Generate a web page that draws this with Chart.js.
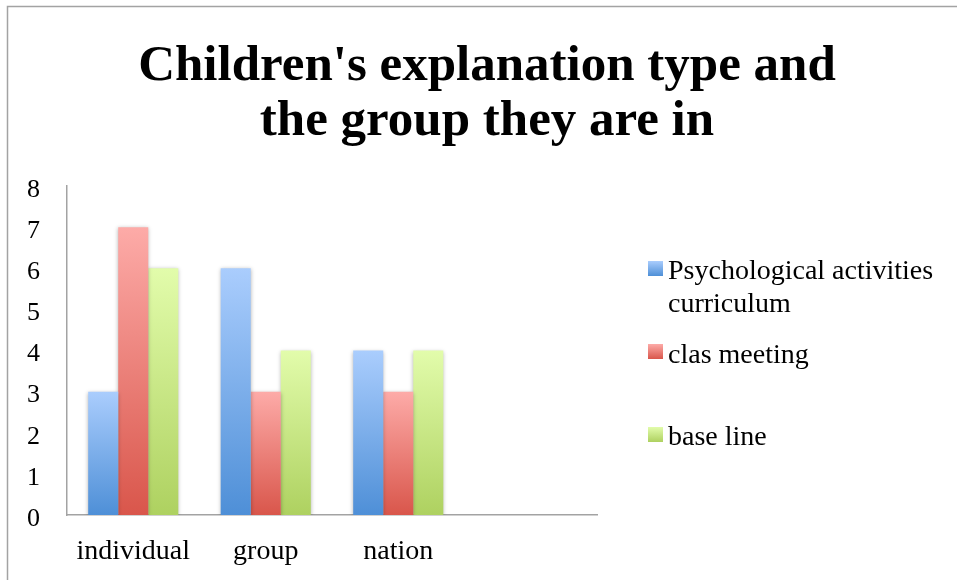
<!DOCTYPE html>
<html>
<head>
<meta charset="utf-8">
<script src="https://cdn.jsdelivr.net/npm/chart.js@4"></script>
<style>
  html, body { margin: 0; padding: 0; background: #fff; }
  canvas { display: block; }
</style>
</head>
<body>
<canvas id="chart" width="957" height="580"></canvas>
<script>
// Chart data
const titleLines = ["Children's explanation type and", "the group they are in"];
const categories = ['individual', 'group', 'nation', ''];
const psychological = [3, 6, 4, null];
const clasMeeting = [7, 3, 3, null];
const baseLine = [6, 4, 4, null];
const seriesNames = [['Psychological activities', 'curriculum'], ['clas meeting'], ['base line']];
const yMin = 0, yMax = 8, yStep = 1;

const FONT = "'Liberation Serif', 'Times New Roman', serif";

// light top -> dark bottom, like the office gradient fill
const colours = [
  ['#aacdfd', '#4e8fd7'],
  ['#fdaba8', '#d9564b'],
  ['#e2fcab', '#aed160']
];

function barFill(top, bottom) {
  return function (c) {
    const chart = c.chart;
    if (!chart.chartArea || c.type !== 'data' || !c.parsed || c.parsed.y == null) return bottom;
    const y0 = chart.scales.y.getPixelForValue(c.parsed.y);
    const y1 = chart.scales.y.getPixelForValue(0);
    if (!isFinite(y0) || Math.abs(y1 - y0) < 1) return bottom;
    const g = chart.ctx.createLinearGradient(0, y0, 0, y1);
    g.addColorStop(0, top);
    g.addColorStop(1, bottom);
    return g;
  };
}

// frame + title
const framePlugin = {
  id: 'frame',
  beforeDraw(chart) {
    const ctx = chart.ctx;
    ctx.save();
    ctx.strokeStyle = '#a3a3a3';
    ctx.lineWidth = 1.5;
    ctx.beginPath();
    ctx.moveTo(7.5, chart.height);
    ctx.lineTo(7.5, 6.5);
    ctx.lineTo(chart.width, 6.5);
    ctx.stroke();

    ctx.fillStyle = '#000';
    ctx.font = 'bold 51px ' + FONT;
    ctx.textAlign = 'center';
    ctx.textBaseline = 'alphabetic';
    ctx.fillText(titleLines[0], 487, 80);
    ctx.fillText(titleLines[1], 487, 135);
    ctx.restore();
  }
};

// soft shadow behind the bars
const shadowPlugin = {
  id: 'barShadow',
  beforeDatasetsDraw(chart) {
    const ctx = chart.ctx;
    ctx.save();
    ctx.shadowColor = 'rgba(0,0,0,0.3)';
    ctx.shadowBlur = 4;
    ctx.shadowOffsetX = 0;
    ctx.shadowOffsetY = 1;
  },
  afterDatasetsDraw(chart) {
    chart.ctx.restore();
  }
};

// legend on the right
const legendPlugin = {
  id: 'sideLegend',
  afterDraw(chart) {
    const ctx = chart.ctx;
    const boxTops = [261, 344, 427];
    const baselines = [[279, 312], [363], [445]];
    ctx.save();
    ctx.font = '28px ' + FONT;
    ctx.textAlign = 'left';
    ctx.textBaseline = 'alphabetic';
    chart.data.datasets.forEach((ds, i) => {
      const t = boxTops[i];
      const g = ctx.createLinearGradient(0, t, 0, t + 15);
      g.addColorStop(0, colours[i][0]);
      g.addColorStop(1, colours[i][1]);
      ctx.fillStyle = g;
      ctx.fillRect(648, t, 15, 15);
      ctx.fillStyle = '#000';
      ds.label.forEach((line, j) => ctx.fillText(line, 668, baselines[i][j]));
    });
    ctx.restore();
  }
};

const ctx = document.getElementById('chart').getContext('2d');
const chart = new Chart(ctx, {
  type: 'bar',
  data: {
    labels: categories,
    datasets: [psychological, clasMeeting, baseLine].map((d, i) => ({
      label: seriesNames[i],
      data: d,
      backgroundColor: barFill(colours[i][0], colours[i][1]),
      borderWidth: 0,
      categoryPercentage: 0.68,
      barPercentage: 1
    }))
  },
  options: {
    responsive: false,
    animation: false,
    layout: { padding: { left: 0, top: 186, right: 360, bottom: 0 } },
    plugins: {
      legend: { display: false },
      title: { display: false },
      tooltip: { enabled: false }
    },
    scales: {
      x: {
        grid: { display: false, drawTicks: false },
        border: { display: true, color: '#a3a3a3', width: 1.5 },
        ticks: { color: '#000', font: { family: FONT, size: 28 }, padding: 20, maxRotation: 0, autoSkip: false },
        afterFit(scale) { scale.height = 65; }
      },
      y: {
        min: yMin,
        max: yMax,
        grid: { display: false, drawTicks: false },
        border: { display: true, color: '#a3a3a3', width: 1.5 },
        ticks: { stepSize: yStep, color: '#000', font: { family: FONT, size: 26 }, padding: 27, labelOffset: 4 },
        afterFit(scale) { scale.width = 67; }
      }
    }
  },
  plugins: [framePlugin, shadowPlugin, legendPlugin]
});
</script>
</body>
</html>
